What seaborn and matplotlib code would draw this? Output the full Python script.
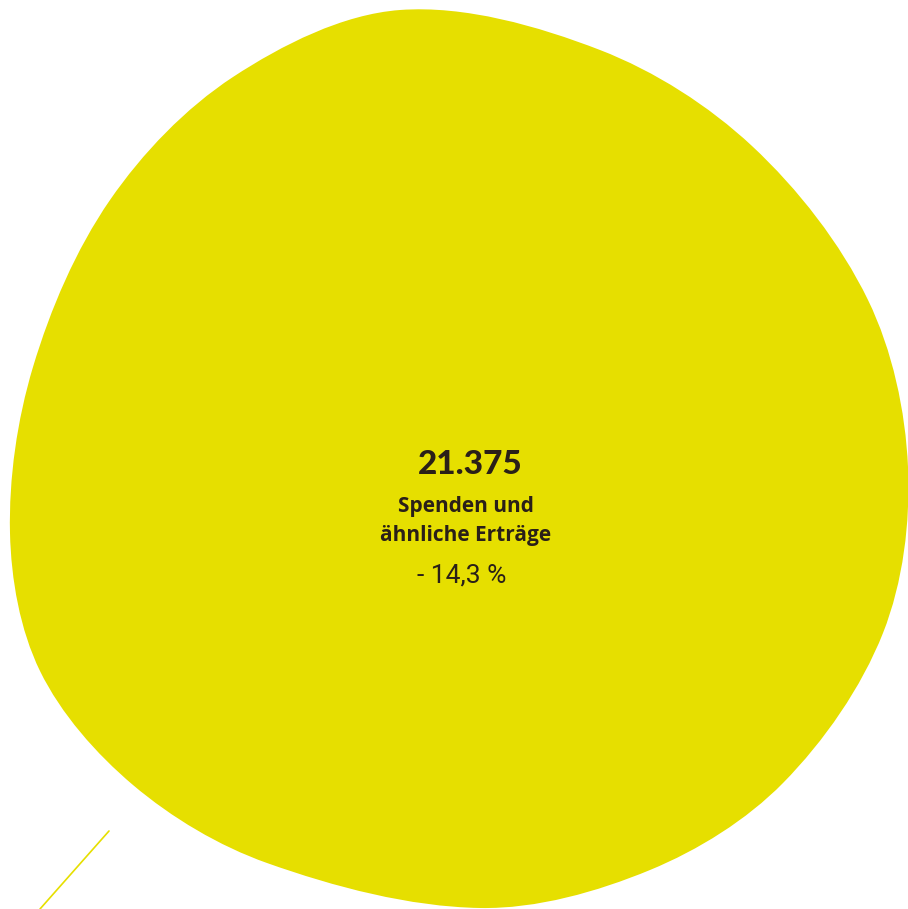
import numpy as np
import matplotlib
matplotlib.use("Agg")
import matplotlib.pyplot as plt
from matplotlib.path import Path
from matplotlib.patches import PathPatch
import seaborn as sns

# ---- data ----
categories = ["Spenden und\nähnliche Erträge"]
values = [21.375]
value_labels = ["21.375"]
changes = ["- 14,3 %"]

# blob outline anchors (pixel coordinates, y downward)
outline_x = [400, 600, 752, 868, 908, 883, 783, 650, 480, 267, 133, 40,
             10, 33, 110, 233]
outline_y = [10, 50, 146, 300, 467, 633, 783, 870, 908, 863, 785, 671,
             533, 367, 200, 77]
# leader line
line_x = [40, 109]
line_y = [909, 831]

YELLOW = "#E6DF00"
TEXT = "#2a2018"

sns.set_theme(style="white")
plt.rcParams["font.family"] = ["Lato", "DejaVu Sans"]

fig = plt.figure(figsize=(9.08, 9.09), dpi=100)
ax = fig.add_axes([0, 0, 1, 1])
ax.set_xlim(0, 908)
ax.set_ylim(909, 0)
ax.axis("off")

# closed Catmull-Rom curve (chord-scaled tangents) as bezier path
P = np.column_stack([outline_x, outline_y]).astype(float)
n = len(P)
verts = [P[0]]
codes = [Path.MOVETO]
for i in range(n):
    p0, p1, p2, p3 = P[i - 1], P[i], P[(i + 1) % n], P[(i + 2) % n]
    d01 = np.linalg.norm(p1 - p0)
    d12 = np.linalg.norm(p2 - p1)
    d23 = np.linalg.norm(p3 - p2)
    m1 = (p2 - p0) / (d01 + d12) * d12
    m2 = (p3 - p1) / (d12 + d23) * d12
    c1 = p1 + m1 / 3.0
    c2 = p2 - m2 / 3.0
    verts += [c1, c2, p2]
    codes += [Path.CURVE4] * 3
patch = PathPatch(Path(verts, codes), facecolor=YELLOW, edgecolor="none")
ax.add_patch(patch)

sns.lineplot(x=line_x, y=line_y, ax=ax, color=YELLOW, lw=1.2, sort=False)

ax.text(470, 465, value_labels[0], ha="center", va="center",
        fontsize=24, fontweight="black", color=TEXT)
ax.text(466, 521, categories[0], ha="center", va="center",
        fontsize=15, fontweight="bold", color=TEXT, linespacing=1.5,
        family=["Open Sans", "DejaVu Sans"])
ax.text(462, 575, changes[0], ha="center", va="center",
        fontsize=19, fontweight="normal", color=TEXT,
        family=["Roboto", "DejaVu Sans"])

fig.savefig("out.png", dpi=100, facecolor="white")
